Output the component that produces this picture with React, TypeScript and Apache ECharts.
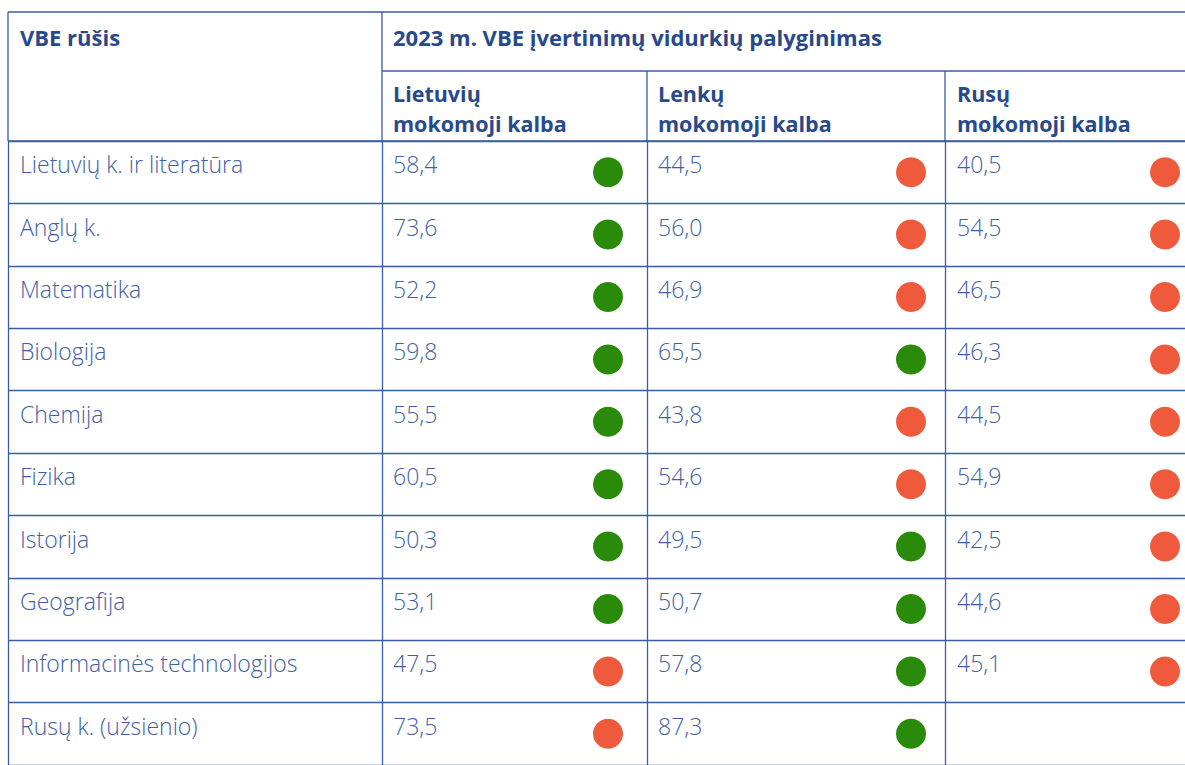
import React, { useEffect, useRef } from "react";
import * as echarts from "echarts";

// ---- data ----
const subjects = [
  "Lietuvių k. ir literatūra",
  "Anglų k.",
  "Matematika",
  "Biologija",
  "Chemija",
  "Fizika",
  "Istorija",
  "Geografija",
  "Informacinės technologijos",
  "Rusų k. (užsienio)",
];
const columnHeadersLine1 = ["Lietuvių", "Lenkų", "Rusų"];
const columnHeadersLine2 = ["mokomoji kalba", "mokomoji kalba", "mokomoji kalba"];
const firstHeader = "VBE rūšis";
const groupHeader = "2023 m. VBE įvertinimų vidurkių palyginimas";

const lietuviuValues = [58.4, 73.6, 52.2, 59.8, 55.5, 60.5, 50.3, 53.1, 47.5, 73.5];
const lenkuValues = [44.5, 56.0, 46.9, 65.5, 43.8, 54.6, 49.5, 50.7, 57.8, 87.3];
const rusuValues = [40.5, 54.5, 46.5, 46.3, 44.5, 54.9, 42.5, 44.6, 45.1, null];

// "up" = green dot, "down" = red dot
const lietuviuStatus = ["up", "up", "up", "up", "up", "up", "up", "up", "down", "down"];
const lenkuStatus = ["down", "down", "down", "up", "down", "down", "up", "up", "up", "up"];
const rusuStatus = ["down", "down", "down", "down", "down", "down", "down", "down", "down", null];

// ---- styles / layout ----
const FONT = '"Open Sans", "Noto Sans", sans-serif';
const LINE = "#3a5ca2";
const LINE_W = 1.3;
const BODY = "#3f60a5";
const HEAD = "#28498c";
const GREEN = "#2a8a0a";
const RED = "#ee5a3b";
const BODY_SIZE = 23;
const HEAD_SIZE = 22;
const SUBHEAD_SIZE = 21.5;

const App: React.FC = () => {
  const ref = useRef<HTMLDivElement>(null);

  useEffect(() => {
    document.body.style.margin = "0";
    if (!ref.current) return;
    const chart = echarts.init(ref.current, undefined, { renderer: "svg" });

    const tableTop = 141;
    const rowH = 63.6;
    const gridH = rowH * subjects.length;
    const colLeft = [8, 382, 647, 945];
    const colWidth = [374, 265, 298, 240];
    const dotOffset = [93.5, 115, 100];
    const textOffset = [-215, -253, -208];
    const headX = [393, 658, 957];

    const values = [lietuviuValues, lenkuValues, rusuValues];
    const statuses = [lietuviuStatus, lenkuStatus, rusuStatus];

    const grids = colLeft.map((l, i) => ({
      left: l,
      top: tableTop,
      width: colWidth[i],
      height: gridH,
      containLabel: false,
    }));

    const xAxes = colLeft.map((_, i) => ({
      type: "category",
      gridIndex: i,
      data: ["c"],
      show: false,
    }));

    const yAxes = colLeft.map((_, i) => ({
      type: "category",
      gridIndex: i,
      data: subjects,
      inverse: true,
      axisLine: { show: true, lineStyle: { color: LINE, width: LINE_W } },
      axisTick: { show: false },
      splitLine: { show: true, interval: 0, lineStyle: { color: LINE, width: LINE_W } },
      axisLabel:
        i === 0
          ? {
              show: true,
              inside: true,
              interval: 0,
              margin: 12,
              color: BODY,
              fontSize: BODY_SIZE,
              fontWeight: 300,
              fontFamily: FONT,
              align: "left",
              verticalAlign: "bottom",
              lineHeight: 16,
            }
          : { show: false },
    }));

    const series = values.map((vals, ci) => ({
      type: "scatter",
      xAxisIndex: ci + 1,
      yAxisIndex: ci + 1,
      symbol: "circle",
      symbolSize: 30,
      symbolOffset: [dotOffset[ci], 0],
      silent: true,
      itemStyle: { opacity: 1 },
      data: subjects
        .map((s, i) =>
          vals[i] == null
            ? null
            : {
                value: ["c", s, vals[i]],
                itemStyle: { color: statuses[ci][i] === "up" ? GREEN : RED, opacity: 1 },
              }
        )
        .filter((d) => d !== null),
      label: {
        show: true,
        position: "inside",
        align: "left",
        verticalAlign: "middle",
        offset: [textOffset[ci], -8],
        color: BODY,
        fontSize: BODY_SIZE,
        fontWeight: 300,
        fontFamily: FONT,
        formatter: (p: any) => (p.value[2] as number).toFixed(1).replace(".", ","),
      },
    }));

    const ln = (x1: number, y1: number, x2: number, y2: number) => ({
      type: "line",
      shape: { x1, y1, x2, y2 },
      style: { stroke: LINE, lineWidth: LINE_W },
      silent: true,
    });
    const headText = (x: number, y: number, text: string, size: number) => ({
      type: "text",
      x,
      y,
      style: {
        text,
        fill: HEAD,
        fontSize: size,
        fontWeight: 700,
        fontFamily: FONT,
        verticalAlign: "middle",
        align: "left",
      },
      silent: true,
    });

    const graphic: any[] = [
      ln(8, 12, 1185, 12),
      ln(8, 12, 8, tableTop),
      ln(382, 12, 382, tableTop),
      ln(382, 71, 1185, 71),
      ln(647, 71, 647, tableTop),
      ln(945, 71, 945, tableTop),
      ln(8, tableTop, 1185, tableTop),
      headText(20, 37, firstHeader, HEAD_SIZE),
      headText(393, 37, groupHeader, HEAD_SIZE),
    ];
    headX.forEach((x, i) => {
      graphic.push(headText(x, 93.5, columnHeadersLine1[i], SUBHEAD_SIZE));
      graphic.push(headText(x, 123, columnHeadersLine2[i], SUBHEAD_SIZE));
    });

    chart.setOption({
      animation: false,
      textStyle: { fontFamily: FONT },
      grid: grids,
      xAxis: xAxes,
      yAxis: yAxes,
      series,
      graphic,
    } as any);

    return () => chart.dispose();
  }, []);

  return <div ref={ref} style={{ width: 1185, height: 765, background: "#fff" }} />;
};

export default App;
